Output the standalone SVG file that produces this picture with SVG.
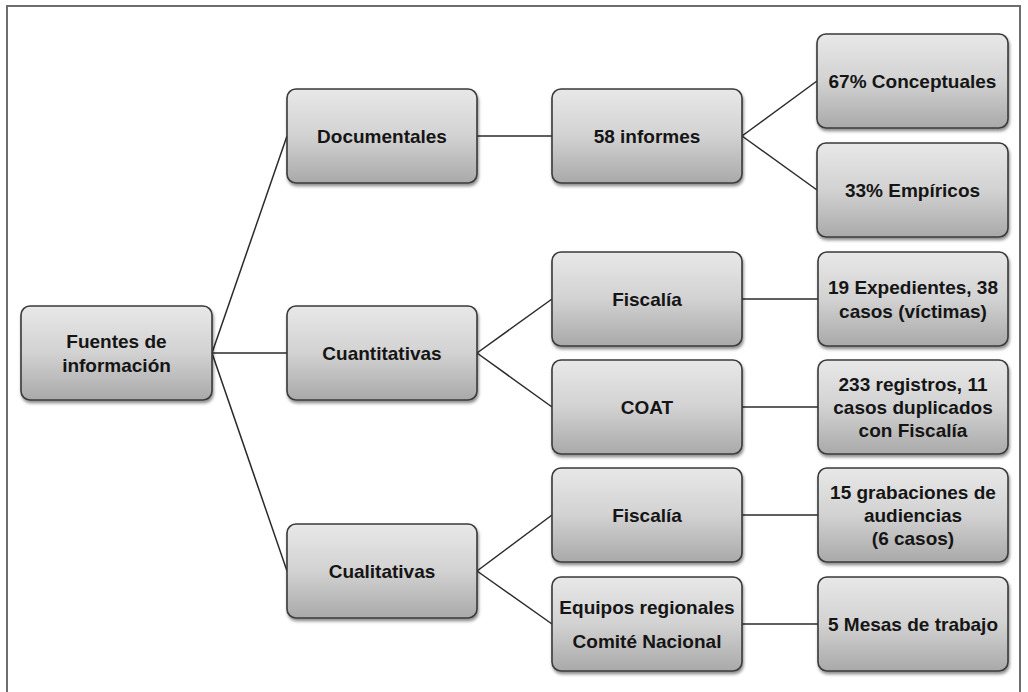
<svg xmlns="http://www.w3.org/2000/svg" width="1028" height="692" viewBox="0 0 1028 692">
<defs>
<linearGradient id="g" x1="0" y1="0" x2="0" y2="1">
<stop offset="0" stop-color="#e8e8e8"/>
<stop offset="0.5" stop-color="#d2d2d2"/>
<stop offset="1" stop-color="#a9a9a9"/>
</linearGradient>
<filter id="sh" x="-10%" y="-10%" width="120%" height="130%">
<feDropShadow dx="1" dy="2.5" stdDeviation="1.5" flood-color="#000" flood-opacity="0.45"/>
</filter>
</defs>
<style>
.box{fill:url(#g);stroke:#3a3a3a;stroke-width:1.6;filter:url(#sh)}
.t{font-family:"Liberation Sans",Arial,sans-serif;font-weight:bold;font-size:19px;fill:#151515;text-anchor:middle}
.c line{stroke:#2a2a2a;stroke-width:1.5}
</style>
<rect width="1028" height="692" fill="#fff"/>
<path d="M7,692 V6 H1020 V692" fill="none" stroke="#6e6e6e" stroke-width="2"/>
<g class="c" id="connectors">
<line x1="212" y1="353" x2="287" y2="136"/>
<line x1="212" y1="353" x2="287" y2="353"/>
<line x1="212" y1="353" x2="287" y2="571"/>
<line x1="477" y1="136" x2="552" y2="136"/>
<line x1="477" y1="353" x2="552" y2="299"/>
<line x1="477" y1="353" x2="552" y2="407"/>
<line x1="477" y1="571" x2="552" y2="515"/>
<line x1="477" y1="571" x2="552" y2="624"/>
<line x1="742" y1="136" x2="817" y2="81"/>
<line x1="742" y1="136" x2="817" y2="190"/>
<line x1="742" y1="299" x2="818" y2="299"/>
<line x1="742" y1="407" x2="818" y2="407"/>
<line x1="742" y1="515" x2="818" y2="515"/>
<line x1="742" y1="624" x2="818" y2="624"/>
</g>
<g id="fuentes"><rect class="box" x="21" y="306" width="191" height="94" rx="9"/><text class="t" x="116.5" y="348">Fuentes de</text><text class="t" x="116.5" y="372">información</text></g>
<g id="documentales"><rect class="box" x="287" y="89" width="190" height="94" rx="9"/><text class="t" x="382" y="143">Documentales</text></g>
<g id="cuantitativas"><rect class="box" x="287" y="306" width="190" height="94" rx="9"/><text class="t" x="382" y="360">Cuantitativas</text></g>
<g id="cualitativas"><rect class="box" x="287" y="524" width="190" height="94" rx="9"/><text class="t" x="382" y="578">Cualitativas</text></g>
<g id="informes"><rect class="box" x="552" y="89" width="190" height="94" rx="9"/><text class="t" x="647" y="143">58 informes</text></g>
<g id="fiscalia1"><rect class="box" x="552" y="252" width="190" height="94" rx="9"/><text class="t" x="647" y="306">Fiscalía</text></g>
<g id="coat"><rect class="box" x="552" y="360" width="190" height="94" rx="9"/><text class="t" x="647" y="414">COAT</text></g>
<g id="fiscalia2"><rect class="box" x="552" y="468" width="190" height="94" rx="9"/><text class="t" x="647" y="522">Fiscalía</text></g>
<g id="equipos"><rect class="box" x="552" y="577" width="190" height="94" rx="9"/><text class="t" x="647" y="614">Equipos regionales</text><text class="t" x="647" y="648">Comité Nacional</text></g>
<g id="conceptuales"><rect class="box" x="817" y="34" width="191" height="94" rx="9"/><text class="t" x="912.5" y="88">67% Conceptuales</text></g>
<g id="empiricos"><rect class="box" x="817" y="143" width="191" height="94" rx="9"/><text class="t" x="912.5" y="197">33% Empíricos</text></g>
<g id="expedientes"><rect class="box" x="818" y="252" width="190" height="94" rx="9"/><text class="t" x="913" y="294">19 Expedientes, 38</text><text class="t" x="913" y="318">casos (víctimas)</text></g>
<g id="registros"><rect class="box" x="818" y="360" width="190" height="94" rx="9"/><text class="t" x="913" y="391">233 registros, 11</text><text class="t" x="913" y="414">casos duplicados</text><text class="t" x="913" y="437">con Fiscalía</text></g>
<g id="grabaciones"><rect class="box" x="818" y="468" width="190" height="94" rx="9"/><text class="t" x="913" y="499">15 grabaciones de</text><text class="t" x="913" y="522">audiencias</text><text class="t" x="913" y="545">(6 casos)</text></g>
<g id="mesas"><rect class="box" x="818" y="577" width="190" height="94" rx="9"/><text class="t" x="913" y="631">5 Mesas de trabajo</text></g>
</svg>
